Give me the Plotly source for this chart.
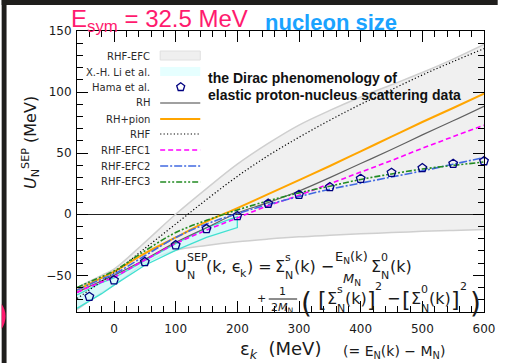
import plotly.graph_objects as go
import math

# ---------------- data ----------------
band_x = [-60, -40, -20, 0, 50, 100, 150, 200, 250, 300, 350, 400, 450, 500, 550, 600]
band_upper = [-60, -55, -50, -45, -23, 0, 21, 41, 58, 73, 85, 96, 106, 116, 127, 139]
band_lower = [-78, -71, -64, -58, -40, -29.5, -25.5, -22.5, -20.3, -18.5, -17.2, -16, -15, -14, -13.2, -12.5]

li_x = [-60, -40, -20, 0, 50, 100, 150, 200]
li_lower = [-77, -71, -65, -58, -41.7, -29.5, -19, -10.9]
li_upper = [-66, -61, -56, -52, -38, -24, -11, -2]

curve_x = [-60, -40, -20, 0, 50, 100, 150, 200, 250, 300, 350, 400, 450, 500, 550, 600]
rh = [-64, -59, -54.5, -50, -37, -23, -11, 1, 9.5, 19, 30, 41.5, 53, 65, 76.5, 88.4]
rh_pion = [-62, -57, -52, -47, -32, -19, -6, 5, 16.5, 28, 39.5, 51.5, 63.5, 75.5, 87, 98.8]
rhf = [-69, -62, -55, -48, -28, -8, 12, 31, 48, 63, 77, 90, 102, 114, 125, 135.6]
efc1 = [-64, -59.5, -55.5, -51.5, -37.5, -24, -13, -3, 7, 15.5, 25, 34.5, 44, 54, 63.5, 72.8]
efc2 = [-62, -57.5, -53, -49, -34, -19, -8, 0.5, 8, 14.5, 20.5, 25.5, 30.5, 35.5, 41, 46.4]
efc3 = [-60, -55.5, -51, -46.5, -30, -15, -5, 3.5, 11, 17.5, 23, 28.5, 33, 37, 40, 42.8]

hama_x = [-40, 0, 50, 100, 150, 200, 250, 300, 350, 400, 450, 500, 550, 600]
hama_y = [-67.5, -54, -39, -25.3, -12, -1.4, 8.7, 16, 22.3, 29.1, 34, 37.8, 41.4, 43.5]

x_ticks = [0, 100, 200, 300, 400, 500, 600]
y_ticks = [-50, 0, 50, 100, 150]

legend_labels = ["RHF-EFC", "X.-H. Li et al.", "Hama et al.", "RH", "RH+pion",
                 "RHF", "RHF-EFC1", "RHF-EFC2", "RHF-EFC3"]

# ---------------- layout helpers ----------------
W, H = 507, 363
L, R, T, B = 77, 493, 31, 312
FONT = "DejaVu Sans"


def px(x):
    return (x - L) / (R - L)


def py(y):
    return (B - y) / (B - T)


annots = []
shapes = []


def txt(x, y, text, size=12, color="#1a1a1a", xanchor="left", family=FONT, angle=0):
    annots.append(dict(x=px(x), y=py(y), xref="paper", yref="paper", text=text,
                       showarrow=False, xanchor=xanchor, yanchor="middle", borderpad=0,
                       textangle=angle, font=dict(size=size, color=color, family=family)))


fig = go.Figure()

# gray band RHF-EFC
fig.add_trace(go.Scatter(x=band_x, y=band_upper, mode="lines", line=dict(color="#cfcfcf", width=1.5, shape="spline"),
                         showlegend=False, hoverinfo="skip"))
fig.add_trace(go.Scatter(x=band_x, y=band_lower, mode="lines", line=dict(color="#cfcfcf", width=1.5, shape="spline"),
                         fill="tonexty", fillcolor="rgba(120,120,120,0.11)", showlegend=False, hoverinfo="skip"))

# cyan band X.-H. Li
li_poly_x = li_x + [li_x[-1]] + li_x[::-1]
li_poly_y = li_lower + [li_upper[-1]] + li_upper[::-1]
fig.add_trace(go.Scatter(x=li_poly_x, y=li_poly_y, mode="lines", fill="toself",
                         fillcolor="rgba(200,255,255,0.6)", line=dict(color="#40e0d0", width=1.3),
                         showlegend=False, hoverinfo="skip"))

DOT = "1.2px,2.2px"
styles = [
    (rh, "#606060", 1.2, "solid"),
    (rh_pion, "#ffa500", 2.0, "solid"),
    (rhf, "#000000", 1.2, DOT),
    (efc1, "#ff00ff", 1.6, "5px,3px"),
    (efc2, "#4169e1", 1.6, "8px,2px,2px,2px"),
    (efc3, "#228b22", 1.6, "6px,2px,2px,2px,2px,2px"),
]
for ys, col, w, dash in styles:
    fig.add_trace(go.Scatter(x=curve_x, y=ys, mode="lines",
                             line=dict(color=col, width=w, dash=dash, shape="spline"),
                             showlegend=False, hoverinfo="skip"))

fig.add_trace(go.Scatter(x=hama_x, y=hama_y, mode="markers",
                         marker=dict(symbol="pentagon-open", size=9, color="#000080", line=dict(width=1.3)),
                         showlegend=False, cliponaxis=False))

# ---------------- manual legend ----------------
leg_y = [56, 72, 87, 103, 119, 134, 150, 166, 182]
for lab, yy in zip(legend_labels, leg_y):
    txt(153, yy, lab, size=10, color="#2a2a2a", xanchor="right")

shapes.append(dict(type="rect", xref="paper", yref="paper", x0=px(162), x1=px(203), y0=py(51), y1=py(60),
                   fillcolor="#efefef", line=dict(color="#e0e0e0", width=1)))
shapes.append(dict(type="rect", xref="paper", yref="paper", x0=px(162), x1=px(203), y0=py(67), y1=py(76),
                   fillcolor="#e6ffff", line=dict(width=0)))
cx, cy, rr = 183, 87, 4.3
pts = [(cx + rr * math.cos(math.radians(90 + 72 * k)), cy - rr * math.sin(math.radians(90 + 72 * k))) for k in range(5)]
path = "M " + " L ".join(f"{px(a):.5f},{py(b):.5f}" for a, b in pts) + " Z"
shapes.append(dict(type="path", xref="paper", yref="paper", path=path, line=dict(color="#000080", width=1.3)))
leg_lines = [(103, "#a0a0a0", 2, "solid"), (119, "#ffa500", 2, "solid"), (134, "#000000", 1.2, DOT),
             (150, "#ff00ff", 1.6, "5px,3px"), (166, "#4169e1", 1.6, "8px,2px,2px,2px"),
             (182, "#228b22", 1.6, "6px,2px,2px,2px,2px,2px")]
for yy, col, w, dash in leg_lines:
    shapes.append(dict(type="line", xref="paper", yref="paper", x0=px(162), x1=px(203), y0=py(yy), y1=py(yy),
                       line=dict(color=col, width=w, dash=dash)))

# ---------------- texts ----------------
txt(70, 21, "E<sub>sym</sub> = 32.5 MeV", size=24, color="#ff1a6e", family="Liberation Sans")
txt(268, 22, "<b>nucleon size</b>", size=22, color="#1aa3ff", family="Liberation Sans")
txt(210, 78, "<b>the Dirac phenomenology of</b>", size=14, color="#111111", family="Liberation Sans")
txt(210, 95, "<b>elastic proton-nucleus scattering data</b>", size=14, color="#111111", family="Liberation Sans")

# formula line 1
F, S = 16, 11
txt(176, 266, "U", F)
txt(188, 257, "SEP", S)
txt(188, 275, "N", S)
txt(208, 266, "(k, ϵ", F)
txt(243, 273, "k", S)
txt(250, 266, ") =", F)
txt(278, 266, "Σ", F)
txt(289, 257, "s", S)
txt(289, 275, "N", S)
txt(298, 266, "(k) −", F)
txt(358, 257, "E<sub>N</sub>(k)", 13, xanchor="center")
txt(358, 279, "<i>M</i><sub>N</sub>", 13, xanchor="center")
txt(376, 266, "Σ", F)
txt(387, 257, "0", S)
txt(387, 275, "N", S)
txt(396, 266, "(k)", F)
# formula line 2
txt(260, 298, "+", S)
txt(287, 291, "1", S, xanchor="center")
shapes.append(dict(type="line", xref="paper", yref="paper", x0=px(273), x1=px(302), y0=py(299), y1=py(299),
                   line=dict(color="#1a1a1a", width=1)))
txt(287, 308, "2<i>M</i><sub>N</sub>", S, xanchor="center")
txt(305, 303, "(", 28)
txt(322, 299, "[", 22)
txt(331, 298, "Σ", F)
txt(342, 289, "s", S)
txt(342, 308, "N", S)
txt(350, 298, "(k)", F)
txt(372, 299, "]", 22)
txt(381, 286, "2", S)
txt(393, 298, "−", F)
txt(408, 299, "[", 22)
txt(417, 298, "Σ", F)
txt(428, 289, "0", S)
txt(428, 308, "N", S)
txt(436, 298, "(k)", F)
txt(458, 299, "]", 22)
txt(467, 286, "2", S)
txt(478, 303, ")", 28)

# axis titles
txt(285, 350, "ε<sub><i>k</i></sub>  (MeV)", 18, xanchor="center")
txt(348, 352, "(= E<sub>N</sub>(k) − M<sub>N</sub>)", 14)
txt(29, 143, "<i>U</i><sub>N</sub><sup>SEP</sup> (MeV)", 16, xanchor="center", angle=-90)

# dark frame + pink mark
shapes.append(dict(type="rect", xref="paper", yref="paper", x0=px(0), x1=px(W), y0=py(0), y1=py(5),
                   fillcolor="#1f1e1c", line=dict(width=0), layer="above"))
shapes.append(dict(type="rect", xref="paper", yref="paper", x0=px(0), x1=px(5), y0=py(0), y1=py(H),
                   fillcolor="#1f1e1c", line=dict(width=0), layer="above"))
shapes.append(dict(type="path", xref="paper", yref="paper",
                   path=f"M {px(0)},{py(304)} Q {px(8)},{py(316)} {px(0)},{py(329)} Z",
                   fillcolor="#ff1a6e", line=dict(width=0), layer="above"))

axis_common = dict(showline=True, linecolor="black", linewidth=1, mirror="ticks", ticks="inside",
                   ticklen=11, tickcolor="black", tickwidth=1, showgrid=False,
                   tickfont=dict(family=FONT, size=12, color="#1a1a1a"))
fig.update_layout(
    width=W, height=H, margin=dict(l=L, r=W - R, t=T, b=H - B),
    paper_bgcolor="white", plot_bgcolor="white",
    xaxis=dict(range=[-60, 600], tickvals=x_ticks, zeroline=False,
               minor=dict(dtick=20, tick0=0, ticks="inside", ticklen=6, tickcolor="black"),
               ticklabelstandoff=6, **axis_common),
    yaxis=dict(range=[-80, 150], tickvals=y_ticks, zeroline=True, zerolinecolor="#222222", zerolinewidth=1,
               minor=dict(dtick=10, tick0=0, ticks="inside", ticklen=6, tickcolor="black"),
               ticklabelstandoff=2, **axis_common),
    annotations=annots, shapes=shapes, showlegend=False,
)

fig.write_html("out.html")
